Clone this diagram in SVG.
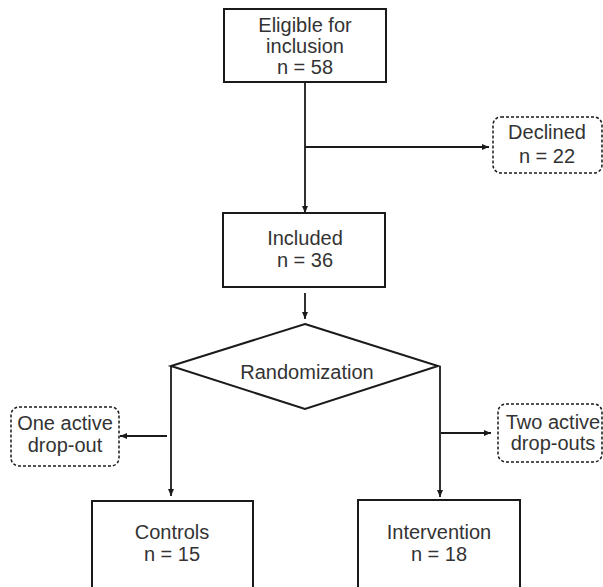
<svg xmlns="http://www.w3.org/2000/svg" width="603" height="587" viewBox="0 0 603 587">
<defs>
<marker id="arr" viewBox="0 0 10 10" refX="10" refY="5" markerWidth="7" markerHeight="6" orient="auto" markerUnits="userSpaceOnUse" preserveAspectRatio="none">
<path d="M0,0 L10,5 L0,10 z" fill="#1a1a1a"/>
</marker>
<style>
.box{fill:#fff;stroke:#1a1a1a;stroke-width:2}
.dash{fill:#fff;stroke:#1a1a1a;stroke-width:1.5;stroke-dasharray:3 2}
.ln{fill:none;stroke:#1a1a1a;stroke-width:1.8}
.arr{marker-end:url(#arr)}
text{font-family:"Liberation Sans",Arial,sans-serif;font-size:20px;fill:#333;text-anchor:middle}
</style>
</defs>
<g id="connectors">
<line class="ln arr" x1="305" y1="82" x2="305" y2="213"/>
<line class="ln arr" x1="305" y1="147" x2="489" y2="147"/>
<line class="ln arr" x1="305" y1="293" x2="305" y2="319"/>
<line class="ln arr" x1="171" y1="366" x2="171" y2="496"/>
<line class="ln arr" x1="167" y1="436" x2="120" y2="436"/>
<line class="ln arr" x1="440" y1="366" x2="440" y2="497"/>
<line class="ln arr" x1="441" y1="433" x2="491" y2="433"/>
</g>
<g id="eligible">
<rect class="box" x="224" y="9" width="162" height="73"/>
<text x="305" y="32">Eligible for</text>
<text x="305" y="53">inclusion</text>
<text x="305" y="74">n = 58</text>
</g>
<g id="declined">
<rect class="dash" x="493" y="117" width="109" height="56" rx="8"/>
<text x="547" y="139">Declined</text>
<text x="547" y="163">n = 22</text>
</g>
<g id="included">
<rect class="box" x="223" y="213" width="162" height="74"/>
<text x="305" y="245">Included</text>
<text x="305" y="267">n = 36</text>
</g>
<g id="randomization">
<polygon class="box" points="305,324 438,366 305,409 171,366"/>
<text x="307" y="379">Randomization</text>
</g>
<g id="one-active">
<rect class="dash" x="11" y="407" width="108" height="59" rx="8"/>
<text x="65" y="430">One active</text>
<text x="65" y="452">drop-out</text>
</g>
<g id="two-active">
<rect class="dash" x="498" y="404" width="104" height="58" rx="8"/>
<text x="553" y="429">Two active</text>
<text x="553" y="450">drop-outs</text>
</g>
<g id="controls">
<rect class="box" x="92" y="501" width="161" height="100"/>
<text x="172" y="539">Controls</text>
<text x="172" y="561">n = 15</text>
</g>
<g id="intervention">
<rect class="box" x="358" y="500" width="162" height="101"/>
<text x="439" y="539">Intervention</text>
<text x="439" y="561">n = 18</text>
</g>
</svg>
